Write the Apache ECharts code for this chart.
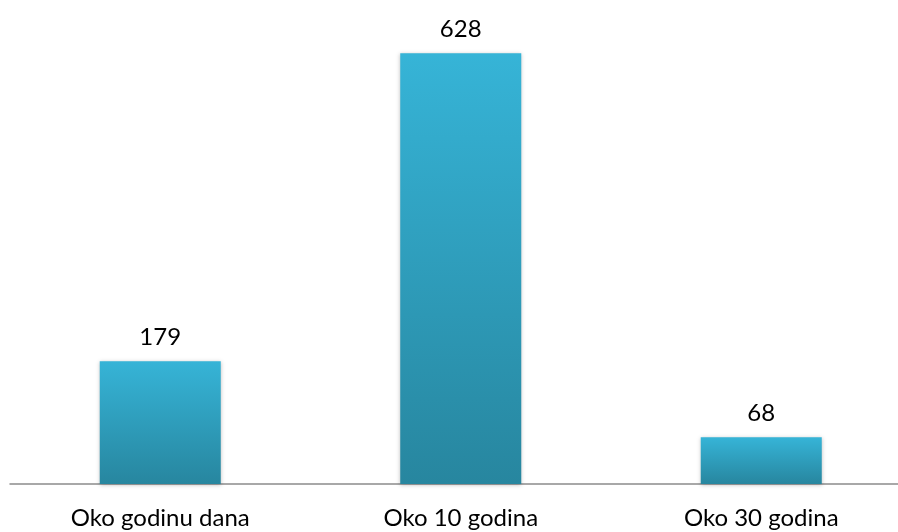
<!DOCTYPE html>
<html><head><meta charset="utf-8">
<script src="https://cdn.jsdelivr.net/npm/echarts@6/dist/echarts.min.js"></script>
<style>html,body{margin:0;padding:0;background:#fff}#c{width:898px;height:532px}</style>
</head><body><div id="c"></div>
<script>
const categories = ["Oko godinu dana", "Oko 10 godina", "Oko 30 godina"];
const values = [179, 628, 68];

const chart = echarts.init(document.getElementById('c'));
chart.setOption({
  animation: false,
  grid: { left: 10, width: 901.5, top: 4, bottom: 48, outerBoundsMode: 'none', containLabel: false },
  xAxis: {
    type: 'category',
    data: categories,
    axisLine: { lineStyle: { color: '#8c8c8c', width: 1.5 } },
    axisTick: { show: false },
    axisLabel: { color: '#000', fontFamily: 'Lato', fontSize: 24, margin: 22 }
  },
  yAxis: { type: 'value', min: 0, max: 700, show: false, splitLine: { show: false } },
  series: [{
    type: 'bar',
    data: values,
    barWidth: 121,
    itemStyle: {
      color: new echarts.graphic.LinearGradient(0, 0, 0, 1, [
        { offset: 0, color: '#36b4d7' },
        { offset: 1, color: '#27869f' }
      ]),
      shadowColor: 'rgba(0,0,0,0.25)', shadowBlur: 4, shadowOffsetY: 1
    },
    label: { show: true, position: 'top', distance: 12, color: '#000', fontFamily: 'Lato', fontSize: 24 }
  }]
});
</script></body></html>
